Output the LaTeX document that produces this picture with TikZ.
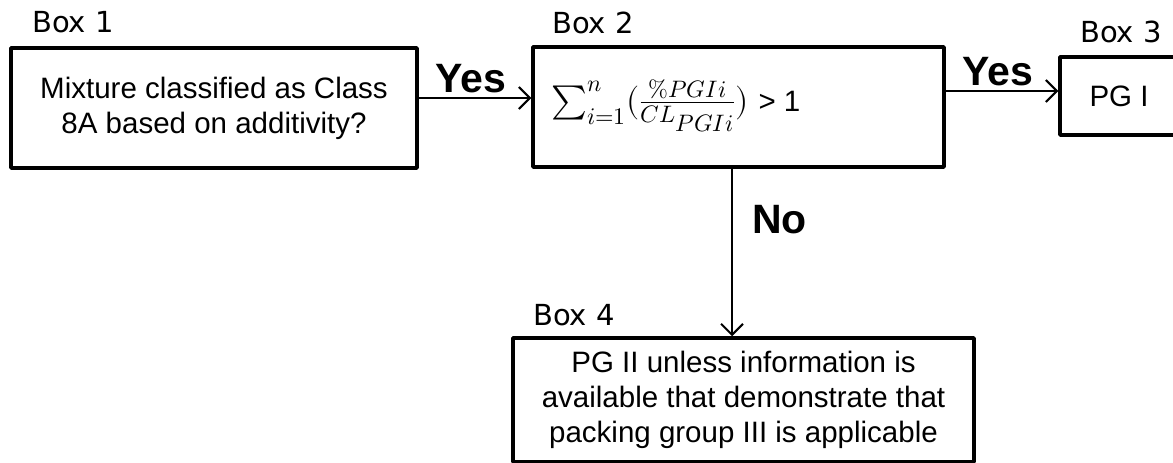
\documentclass[tikz,border=0pt]{standalone}
\usepackage{fontspec}
\usepackage{unicode-math}
\setmainfont{Liberation Sans}
\setmathfont{Latin Modern Math}
\newfontfamily\labfont{DejaVu Sans}
\usetikzlibrary{arrows.meta,calc}
\begin{document}
\begin{tikzpicture}[x=1pt,y=-1pt,
  box/.style={draw,line width=3.5pt,line join=round,inner sep=0pt,align=center,
    font=\fontsize{29.5}{35}\selectfont},
  boxlabel/.style={anchor=base west,inner sep=0pt,font=\labfont\fontsize{29}{32}\selectfont},
  yn/.style={anchor=base west,inner sep=0pt,font=\bfseries\fontsize{41}{44}\selectfont},
  arr/.style={line width=2pt,-{Straight Barb[length=11pt,width=22pt,line width=2pt]}}]
\useasboundingbox (0,0) rectangle (1173,463);
\node[box,minimum width=406pt,minimum height=120pt] (b1) at (214,108)
  {Mixture classified as Class\\8A based on additivity?};
\node[box,minimum width=411pt,minimum height=120pt] (b2) at (738.5,107) {};
\node[anchor=west,inner sep=0pt,font=\fontsize{34}{38}\selectfont] (f) at (551,106)
  {$\textstyle\sum_{i=1}^{n}(\frac{\%PGIi}{CL_{\scriptstyle PGIi}})$\fontsize{29.5}{35}\selectfont\hspace{10pt}> 1};
\node[box,minimum width=118pt,minimum height=78pt] (b3) at (1119,96) {PG I};
\node[box,minimum width=461pt,minimum height=124pt] (b4) at (743.5,400)
  {PG II unless information is\\available that demonstrate that\\packing group III is applicable};
\node[boxlabel] (l1) at (32,32) {Box 1};
\node[boxlabel] (l2) at (552,33) {Box 2};
\node[boxlabel] (l3) at (1080,42) {Box 3};
\node[boxlabel] (l4) at (533,325) {Box 4};
\coordinate (ya) at (0,98);
\coordinate (yb) at (0,91);
\coordinate (vx) at (732,0);
\draw[arr] (b1.east |- ya) -- (b2.west |- ya);
\draw[arr] (b2.east |- yb) -- (b3.west |- yb);
\draw[arr] (b2.south -| vx) -- (b4.north -| vx);
\node[yn] (y1) at (435,92) {Yes};
\node[yn] (y2) at (962,85) {Yes};
\node[yn] (n1) at (752,233) {No};
\end{tikzpicture}
\end{document}
